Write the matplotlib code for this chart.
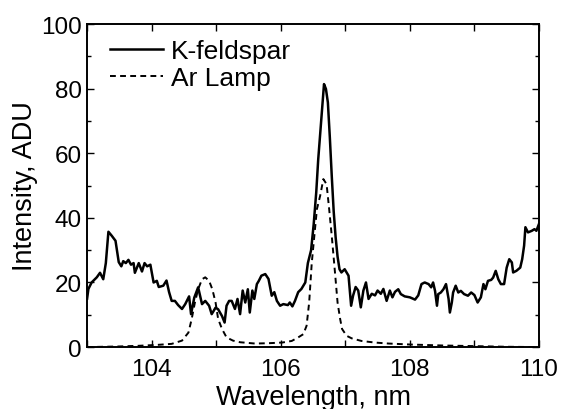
import matplotlib
matplotlib.use("Agg")
import matplotlib.pyplot as plt
from matplotlib.ticker import MultipleLocator

plt.rcParams['font.family'] = ['Liberation Sans', 'DejaVu Sans']

# K-feldspar spectrum (wavelength nm, intensity ADU)
kf_wl = [103.00, 103.02, 103.07, 103.15, 103.20, 103.25, 103.29, 103.33, 103.38, 103.44,
         103.49, 103.53, 103.56, 103.60, 103.64, 103.68, 103.72, 103.74, 103.80, 103.85,
         103.89, 103.93, 103.98, 104.03, 104.08, 104.11, 104.18, 104.23, 104.27, 104.31,
         104.36, 104.41, 104.47, 104.52, 104.58, 104.61, 104.66, 104.72, 104.78, 104.83,
         104.89, 104.93, 104.99, 105.03, 105.09, 105.13, 105.16, 105.20, 105.24, 105.29,
         105.33, 105.37, 105.41, 105.45, 105.49, 105.52, 105.56, 105.59, 105.63, 105.66,
         105.70, 105.76, 105.81, 105.86, 105.90, 105.94, 105.99, 106.04, 106.11, 106.14,
         106.18, 106.22, 106.27, 106.32, 106.38, 106.42, 106.47, 106.51, 106.55, 106.58,
         106.62, 106.65, 106.67, 106.70, 106.73, 106.76, 106.79, 106.82, 106.85, 106.88,
         106.91, 106.94, 106.99, 107.05, 107.09, 107.12, 107.16, 107.20, 107.24, 107.28,
         107.32, 107.36, 107.41, 107.46, 107.50, 107.55, 107.59, 107.64, 107.69, 107.73,
         107.77, 107.82, 107.86, 107.92, 108.00, 108.08, 108.13, 108.18, 108.23, 108.29,
         108.33, 108.36, 108.39, 108.42, 108.44, 108.48, 108.52, 108.56, 108.60, 108.62,
         108.65, 108.67, 108.71, 108.75, 108.79, 108.84, 108.90, 108.95, 109.00, 109.05,
         109.10, 109.14, 109.17, 109.21, 109.26, 109.29, 109.33, 109.37, 109.41, 109.46,
         109.50, 109.54, 109.58, 109.60, 109.65, 109.71, 109.74, 109.77, 109.79, 109.83,
         109.89, 109.93, 109.96, 110.00]
kf_val = [15.0, 18.0, 20.0, 21.6, 23.0, 21.0, 26.0, 35.7, 34.5, 32.9,
          26.3, 25.0, 26.6, 26.0, 27.0, 25.5, 26.0, 23.0, 26.0, 23.4,
          26.0, 25.0, 25.5, 20.0, 20.5, 18.6, 19.0, 20.6, 17.0, 14.3,
          14.3, 13.0, 11.8, 13.3, 15.7, 10.2, 15.3, 18.5, 13.3, 14.3,
          12.8, 10.2, 12.2, 11.7, 9.6, 7.6, 12.8, 14.3, 14.3, 11.8,
          14.9, 10.2, 17.5, 13.8, 17.9, 10.7, 17.5, 14.9, 19.5, 20.5,
          22.1, 22.6, 21.1, 15.9, 17.0, 14.3, 12.8, 13.3, 13.0, 13.8,
          12.6, 14.3, 17.0, 18.0, 20.0, 26.0, 30.0, 38.0, 48.0, 58.0,
          68.5, 76.8, 81.4, 79.9, 75.7, 65.0, 53.0, 42.0, 34.0, 28.0,
          24.1, 23.1, 24.1, 22.1, 12.8, 15.9, 18.6, 17.5, 12.3, 17.5,
          20.0, 14.9, 16.5, 16.0, 17.5, 16.5, 18.0, 14.3, 17.5, 15.4,
          17.1, 17.9, 16.4, 15.7, 15.4, 14.7, 16.0, 19.5, 20.0, 19.5,
          18.5, 20.0, 17.4, 12.8, 16.4, 16.9, 17.9, 19.5, 14.9, 10.7,
          13.8, 16.9, 19.0, 16.9, 17.4, 16.4, 15.9, 16.9, 16.1, 13.8,
          15.4, 19.5, 17.9, 20.5, 20.8, 21.5, 23.6, 21.0, 19.5, 19.5,
          24.6, 27.2, 26.2, 23.1, 23.6, 24.6, 27.2, 31.4, 37.1, 35.5,
          36.0, 36.5, 36.0, 38.1]

# Ar lamp reference spectrum
ar_wl = [103.00, 103.50, 103.80, 104.10, 104.31, 104.47, 104.57, 104.62, 104.67, 104.72,
         104.78, 104.83, 104.89, 104.94, 104.99, 105.03, 105.09, 105.16, 105.26, 105.37,
         105.60, 105.81, 106.02, 106.17, 106.27, 106.35, 106.40, 106.44, 106.48, 106.52,
         106.56, 106.61, 106.66, 106.71, 106.75, 106.79, 106.84, 106.88, 106.92, 106.95,
         107.02, 107.10, 107.25, 107.46, 107.67, 108.00, 108.50, 109.00, 109.50, 110.00]
ar_val = [0.0, 0.2, 0.4, 0.7, 1.0, 2.0, 4.5, 8.7, 13.8, 17.9,
          21.0, 21.6, 20.5, 17.9, 13.8, 8.7, 5.6, 3.0, 2.0, 1.5,
          1.1, 1.2, 1.4, 1.9, 3.0, 4.0, 6.6, 13.8, 26.0, 34.4,
          42.7, 46.8, 52.0, 50.4, 42.7, 34.4, 23.1, 13.8, 8.7, 5.6,
          3.5, 2.7, 1.9, 1.4, 1.1, 0.8, 0.5, 0.3, 0.1, 0.0]

fig = plt.figure(figsize=(5.62, 4.10), dpi=100)
ax = fig.add_axes([0.155, 0.151, 0.804, 0.788])

ax.plot(kf_wl, kf_val, color='black', lw=1.8, label='K-feldspar')
ax.plot(ar_wl, ar_val, color='black', lw=1.4, dashes=(3.0, 2.2), label='Ar Lamp')

ax.set_xlim(103, 110)
ax.set_ylim(0, 100)
ax.xaxis.set_major_locator(MultipleLocator(2))
ax.xaxis.set_minor_locator(MultipleLocator(1))
ax.yaxis.set_major_locator(MultipleLocator(20))
ax.yaxis.set_minor_locator(MultipleLocator(10))
ax.tick_params(which='both', direction='in', top=True, right=True, labelsize=17.5, width=1.0)
ax.tick_params(axis='x', which='both', length=5, pad=8)
ax.tick_params(axis='y', which='major', length=5, pad=4)
ax.tick_params(axis='y', which='minor', length=3)
for s in ax.spines.values():
    s.set_linewidth(1.4)

ax.set_xlabel('Wavelength, nm', fontsize=19.5, labelpad=3)
ax.set_ylabel('Intensity, ADU', fontsize=19.5, labelpad=2)

ax.legend(loc='upper left', frameon=False, fontsize=19, handlelength=2.0,
          handletextpad=0.3, labelspacing=0.1, borderaxespad=0.3,
          bbox_to_anchor=(0.01, 1.01))

fig.savefig('out.png', dpi=100)
